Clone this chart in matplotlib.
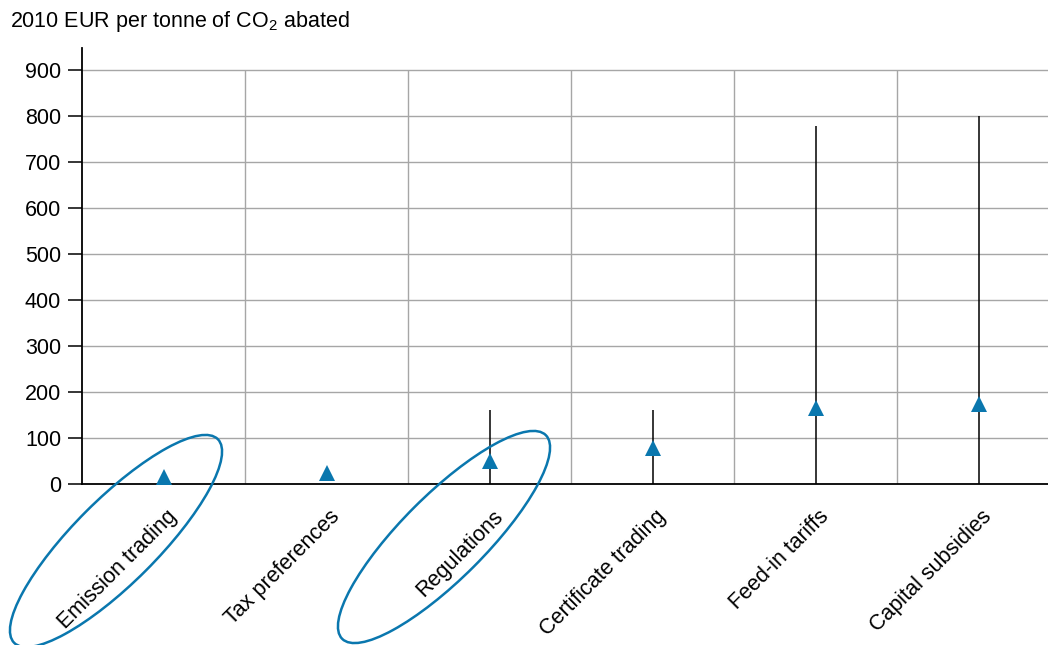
import matplotlib
matplotlib.use("Agg")
import matplotlib.pyplot as plt
import matplotlib.transforms as mtransforms
from matplotlib.patches import Ellipse

plt.rcParams['font.family'] = ['Liberation Sans', 'DejaVu Sans']

# data
categorias = ["Emission trading", "Tax preferences", "Regulations",
              "Certificate trading", "Feed-in tariffs", "Capital subsidies"]
valor_central = [16, 25, 50, 79, 166, 173]
rango_min = [None, None, 0, 0, 0, 0]
rango_max = [None, None, 160, 160, 778, 800]
marcados = ["Emission trading", "Regulations"]

azul = '#0a77ae'
gris = '#a6a6a6'
tam = 15.5

fig = plt.figure(figsize=(10.48, 6.45), dpi=100)
ax = fig.add_axes([82 / 1048, 161 / 645, 978 / 1048, 436 / 645])

x = list(range(len(categorias)))

# horizontal and vertical grid
for y in range(100, 1000, 100):
    ax.axhline(y, color=gris, lw=1.0, zorder=0)
for b in range(len(categorias) - 1):
    ax.vlines(b + 0.5, 0, 900, color=gris, lw=1.0, zorder=0)

# ranges
for i in x:
    if rango_max[i] is not None:
        ax.vlines(i, rango_min[i] - 3, rango_max[i], color='black', lw=1.1, zorder=2)

ax.plot(x, valor_central, linestyle='none', marker='^', markersize=12,
        color=azul, markeredgewidth=0, zorder=3, clip_on=False)

ax.set_xlim(-0.5, len(categorias) - 0.5)
ax.set_ylim(0, 948)
ax.set_yticks(range(0, 1000, 100))
ax.tick_params(axis='y', labelsize=tam, length=10, width=1.1, pad=5)
ax.set_xticks(x)
ax.set_xticklabels(categorias, rotation=45, ha='right', rotation_mode='anchor', fontsize=tam)
ax.tick_params(axis='x', length=0, pad=16)
offset = mtransforms.ScaledTranslation(3 / 100, 0, fig.dpi_scale_trans)
for lab in ax.get_xticklabels():
    lab.set_transform(lab.get_transform() + offset)

for lado in ['top', 'right']:
    ax.spines[lado].set_visible(False)
ax.spines['left'].set_linewidth(1.3)
ax.spines['bottom'].set_linewidth(1.3)

fig.text(10 / 1048, 1 - 22 / 645, "2010 EUR per tonne of CO$\\mathregular{_2}$ abated",
         fontsize=tam, va='center', ha='left')

# ellipses around the highlighted labels
centros = {"Emission trading": (116, 541), "Regulations": (444, 537)}
for nombre in marcados:
    cx, cy = centros[nombre]
    e = Ellipse((cx, 645 - cy), width=288, height=84, angle=45,
                transform=mtransforms.IdentityTransform(), fill=False,
                edgecolor=azul, lw=1.8)
    fig.add_artist(e)

fig.savefig("out.png", dpi=100)
